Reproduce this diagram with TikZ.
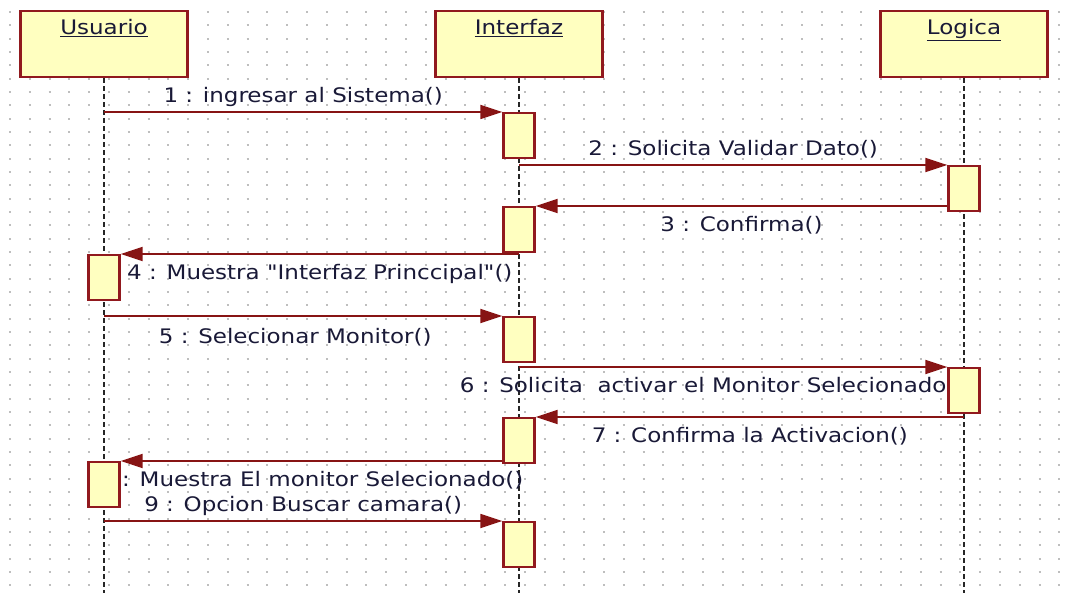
\documentclass[tikz,border=0pt]{standalone}
\usepackage{fontspec}
\setmainfont{DejaVu Sans}[FakeStretch=1.15, Ligatures=TeXOff]
\usepackage{tikz}
\usetikzlibrary{positioning,arrows.meta,backgrounds,calc}

\definecolor{boxred}{RGB}{145,25,30}
\definecolor{msgred}{RGB}{135,20,20}
\definecolor{boxfill}{RGB}{255,255,192}
\definecolor{txtblue}{RGB}{25,25,55}
\definecolor{dotgray}{RGB}{190,190,190}

\tikzset{
	head/.style={draw=boxred, fill=boxfill, line width=2.5pt, minimum width=167pt, minimum height=66pt, inner sep=0pt},
	headtext/.style={text=txtblue, font=\fontsize{20}{22}\selectfont, text height=15pt, text depth=5pt, inner sep=2pt, anchor=north, yshift=-8pt},
	act/.style={draw=boxred, fill=boxfill, line width=2.3pt, minimum width=31pt, minimum height=45pt, inner sep=0pt, anchor=north},
	lifeline/.style={line width=2.2pt, dash pattern=on 5pt off 3pt, black!85},
	msg/.style={draw=msgred, line width=1.8pt, -{Triangle[length=22pt,width=14pt]}},
	msglabel/.style={text=txtblue, font=\fontsize{20}{22}\selectfont, text height=15pt, text depth=5pt, inner sep=2pt},
	gridrow/.style={dotgray, line width=2pt, dash pattern=on 2pt off 17.8pt},
}

\begin{document}
\begin{tikzpicture}[x=1pt, y=-1pt]
	\useasboundingbox (0,0) rectangle (1078,593);
	
	\foreach \n/\t/\x in {usuario/Usuario/104, interfaz/Interfaz/519, logica/Logica/964}
	\node [head, label={[headtext]north:\underline{\t}}] (\n) at (\x,44) {};
	
	\foreach \n/\l/\y in {i1/interfaz/112, l1/logica/165, i2/interfaz/206, u1/usuario/254, i3/interfaz/316, l2/logica/367, i4/interfaz/417, u2/usuario/461, i5/interfaz/521}
	\node [act] (act-\n) at (\l |- 0,\y) {};
	
	\begin{scope}[on background layer]
	\foreach \r in {0,...,43}
	\draw [gridrow] (9,{12+\r*13.33}) -- (1078,{12+\r*13.33});
	
	\foreach \n in {usuario, interfaz, logica}
	\draw [lifeline] (\n.south) -- (\n.south |- 0,593);
	
	\draw [msg] (usuario |- act-i1.north) -- (act-i1.north west)
	node [msglabel, midway, above=2pt] {1 : ingresar al Sistema()};
	\draw [msg] (interfaz |- act-l1.north) -- (act-l1.north west)
	node [msglabel, midway, above=2pt] {2 : Solicita Validar Dato()};
	\draw [msg] (act-l1.west |- act-i2.north) -- (act-i2.north east)
	node [msglabel, midway, below=8pt] {3 : Confirma()};
	\draw [msg] (interfaz |- act-u1.north) -- (act-u1.north east)
	node [msglabel, midway, below=8pt] {4 : Muestra "Interfaz Princcipal"()};
	\draw [msg] (usuario |- act-i3.north) -- (act-i3.north west)
	node [msglabel, midway, below=10pt, xshift=-8pt] {5 : Selecionar Monitor()};
	\draw [msg] (interfaz |- act-l2.north) -- (act-l2.north west)
	node [msglabel, midway, below=8pt, xshift=-30pt] {6 : Solicita\ \ activar el Monitor Selecionado};
	\draw [msg] (logica |- act-i4.north) -- (act-i4.north east)
	node [msglabel, midway, below=8pt] {7 : Confirma la Activacion()};
	\draw [msg] (interfaz |- act-u2.north) -- (act-u2.north east)
	node [msglabel, midway, below=8pt, xshift=-8pt] {8 : Muestra El monitor Selecionado()};
	\draw [msg] (usuario |- act-i5.north) -- (act-i5.north west)
	node [msglabel, midway, above=2pt] {9 : Opcion Buscar camara()};
	\end{scope}
	
\end{tikzpicture}
\end{document}
